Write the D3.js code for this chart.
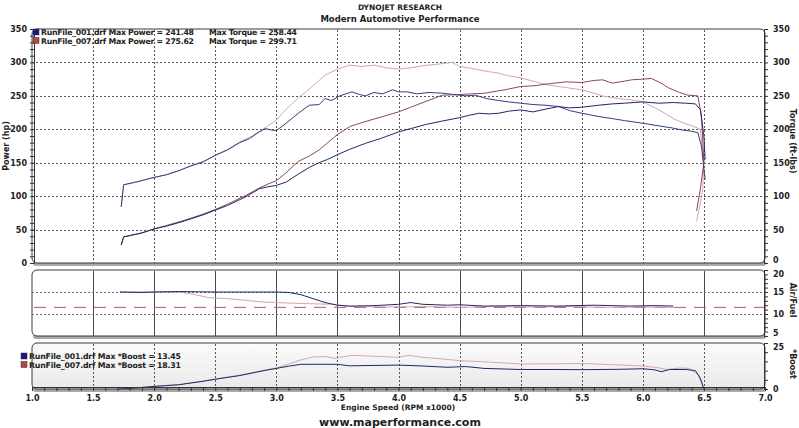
<!DOCTYPE html>
<html>
<head>
<meta charset="UTF-8">
<title>Dynojet - Modern Automotive Performance</title>
<script src="https://cdn.jsdelivr.net/npm/d3@7"></script>
<style>
    body { margin: 0; background: #fff; }
    text { font-family: "DejaVu Sans", Verdana, sans-serif; font-weight: bold; fill: #222; }
</style>
</head>
<body>
<div id="dyno"></div>
<script>
    // ---- data ----
    var rpmTicks = [1.0, 1.5, 2.0, 2.5, 3.0, 3.5, 4.0, 4.5, 5.0, 5.5, 6.0, 6.5, 7.0];
    var powerTicks = [0, 50, 100, 150, 200, 250, 300, 350];
    var afrTicks = [5, 10, 15, 20];
    var boostTicks = [0, 25];

    var runs = ["RunFile_001.drf", "RunFile_007.drf"];
    var maxPower = ["241.48", "275.62"];
    var maxTorque = ["258.44", "299.71"];
    var maxBoost = ["13.45", "18.31"];

    // [rpm x1000, value]
    var power001 = [[1.73,27],[1.75,39],[1.9,45],[2.0,51],[2.1,55],[2.25,63],[2.4,72],[2.5,79],[2.6,86],[2.75,99],[2.86,111],[2.93,114],[3.0,116],[3.08,121],[3.18,133],[3.27,143],[3.35,150],[3.42,155],[3.5,162],[3.6,170],[3.73,179],[3.85,186],[4.0,196],[4.1,201],[4.22,207],[4.35,212],[4.49,217],[4.58,221],[4.66,224],[4.74,223],[4.82,224],[4.9,227],[5.0,229],[5.1,226],[5.2,230],[5.31,234],[5.4,232],[5.5,233],[5.64,236],[5.75,238],[5.85,239],[6.0,241],[6.13,239],[6.25,240],[6.35,239],[6.43,238],[6.47,230],[6.5,190],[6.51,155]];
    var torque001 = [[1.73,84],[1.75,117],[1.85,121],[2.0,128],[2.1,132],[2.2,138],[2.3,145],[2.4,151],[2.5,161],[2.6,169],[2.7,180],[2.78,186],[2.86,196],[2.91,201],[2.96,199],[3.0,198],[3.08,209],[3.18,224],[3.27,236],[3.35,237],[3.4,246],[3.45,243],[3.52,250],[3.62,256],[3.68,252],[3.73,250],[3.8,255],[3.87,253],[3.95,259],[4.0,256],[4.07,256],[4.15,253],[4.25,255],[4.36,254],[4.45,252],[4.55,250],[4.63,251],[4.72,246],[4.82,243],[4.9,241],[5.0,239],[5.1,237],[5.2,236],[5.31,234],[5.4,228],[5.5,224],[5.64,219],[5.75,216],[5.85,213],[6.0,209],[6.1,206],[6.24,202],[6.32,199],[6.4,197],[6.45,195],[6.48,175],[6.5,140],[6.51,125]];
    var power007 = [[1.73,27],[1.75,39],[1.9,45],[2.0,51],[2.1,56],[2.25,64],[2.4,73],[2.5,80],[2.6,88],[2.75,101],[2.86,112],[2.93,118],[3.0,123],[3.08,135],[3.18,152],[3.27,160],[3.35,169],[3.42,180],[3.5,192],[3.6,204],[3.7,210],[3.87,219],[4.0,226],[4.1,233],[4.2,240],[4.3,247],[4.36,251],[4.5,252],[4.6,253],[4.71,254],[4.8,257],[4.87,259],[5.0,264],[5.1,265],[5.23,268],[5.37,271],[5.5,270],[5.6,273],[5.67,274],[5.75,269],[5.85,272],[5.91,274],[6.0,275],[6.07,276],[6.14,270],[6.21,262],[6.3,255],[6.37,251],[6.45,250],[6.48,220],[6.5,150],[6.47,110],[6.44,78]];
    var torque007 = [[1.73,84],[1.75,117],[1.85,121],[2.0,128],[2.1,132],[2.2,138],[2.3,146],[2.4,152],[2.5,161],[2.6,170],[2.7,181],[2.8,190],[2.86,197],[2.93,205],[3.0,214],[3.08,230],[3.18,247],[3.25,257],[3.3,265],[3.35,273],[3.4,281],[3.5,290],[3.6,296],[3.7,294],[3.8,296],[3.9,292],[4.0,290],[4.1,292],[4.2,295],[4.3,297],[4.44,300],[4.5,294],[4.6,291],[4.71,287],[4.82,284],[4.9,280],[5.0,277],[5.1,272],[5.23,266],[5.35,263],[5.5,259],[5.6,254],[5.69,249],[5.8,246],[5.9,244],[6.0,241],[6.1,232],[6.18,224],[6.26,215],[6.34,209],[6.42,204],[6.47,200],[6.5,150],[6.49,110],[6.46,80],[6.44,62]];

    var afr001 = [[1.72,15.0],[1.9,14.9],[2.0,15.0],[2.2,15.1],[2.5,15.0],[2.8,15.0],[3.0,15.0],[3.1,14.9],[3.2,14.4],[3.3,13.5],[3.4,12.6],[3.5,12.0],[3.6,11.8],[3.8,11.9],[4.0,12.2],[4.1,12.6],[4.2,12.2],[4.4,12.0],[4.5,12.1],[4.7,11.8],[5.0,11.9],[5.3,11.8],[5.6,12.0],[5.9,11.8],[6.1,11.9],[6.25,11.8]];
    var afr007 = [[1.72,15.0],[2.0,15.0],[2.2,15.0],[2.3,14.6],[2.45,13.7],[2.6,13.5],[2.9,12.7],[3.2,12.4],[3.46,12.2],[3.6,11.7],[3.9,11.6],[4.2,11.7],[4.5,11.5],[4.8,11.7],[5.1,11.6],[5.4,11.7],[5.7,11.5],[6.0,11.6],[6.25,11.5]];
    var afrTarget = 11.5;

    var boost001 = [[1.7,0],[1.8,0.3],[2.0,1.4],[2.2,2.3],[2.4,4.2],[2.5,5.3],[2.7,7.3],[2.9,10],[3.0,11.2],[3.1,12.4],[3.2,13.4],[3.35,13.45],[3.5,13.4],[3.6,12.6],[3.8,12.8],[4.0,13.0],[4.2,12.5],[4.4,11.8],[4.55,12.2],[4.7,11.2],[5.0,10.6],[5.3,10.6],[5.5,10.5],[5.8,10.7],[6.0,11.0],[6.1,10.4],[6.15,9.4],[6.22,10.6],[6.35,10.6],[6.43,10.0],[6.47,6],[6.5,0]];
    var boost007 = [[1.7,0],[1.8,0.3],[2.0,1.4],[2.2,2.4],[2.4,4.3],[2.5,5.4],[2.7,7.5],[2.9,10.2],[3.0,11.5],[3.1,13.5],[3.2,15.8],[3.3,17.4],[3.4,17.6],[3.48,16.7],[3.62,18.3],[3.8,17.8],[4.0,17.2],[4.08,18.3],[4.2,17.2],[4.35,16.4],[4.5,15.4],[4.7,14.8],[5.0,13.6],[5.3,13.7],[5.5,13.9],[5.75,13.2],[6.0,12.5],[6.1,11.8],[6.2,10.6],[6.3,11.4],[6.38,11.2],[6.45,8],[6.5,0]];

    // ---- layout ----
    var width = 799, height = 428;
    var left = 32, right = 765;

    var svg = d3.select("#dyno").append("svg")
        .attr("width", width)
        .attr("height", height);

    var defs = svg.append("defs");
    var grad = defs.append("linearGradient").attr("id", "boostBg")
        .attr("x1", 0).attr("y1", 0).attr("x2", 0).attr("y2", 1);
    grad.append("stop").attr("offset", "0%").attr("stop-color", "#fbfbfb");
    grad.append("stop").attr("offset", "100%").attr("stop-color", "#e9e9e9");

    var x = d3.scaleLinear().domain([1, 7]).range([left, right]);
    var yMain = d3.scaleLinear().domain([0, 350]).range([263, 29]);
    var yAfr = d3.scaleLinear().domain([5, 20]).range([336, 270]);
    var yBoost = d3.scaleLinear().domain([0, 25]).range([389, 343]);

    var line = function (ys) {
        return d3.line().x(function (d) { return x(d[0]); }).y(function (d) { return ys(d[1]); });
    };

    var blue = "#25246a";
    var blueLight = "#3b3a7c";
    var red = "#8e4656";
    var pink = "#d6a6ac";

    // titles
    svg.append("text").attr("x", 400).attr("y", 10).attr("text-anchor", "middle")
        .style("font-size", "7.5px").text("DYNOJET RESEARCH");
    svg.append("text").attr("x", 400).attr("y", 22).attr("text-anchor", "middle")
        .style("font-size", "8.5px").text("Modern Automotive Performance");

    // panel frame helper
    function panel(top, bottom, fill) {
        svg.append("rect")
            .attr("x", left + 1).attr("y", bottom - 2)
            .attr("width", right - left).attr("height", 5)
            .attr("rx", 3).attr("fill", "#a9a9a9");
        svg.append("rect")
            .attr("x", left).attr("y", top)
            .attr("width", right - left).attr("height", bottom - top)
            .attr("rx", 5)
            .attr("fill", fill).attr("stroke", "#3a3a3a").attr("stroke-width", 1);
    }

    panel(yMain(350), yMain(0), "#fff");
    panel(yAfr(20), yAfr(5), "#fff");
    panel(yBoost(25), yBoost(0), "url(#boostBg)");

    // ---- main panel: power / torque ----
    var grid = svg.append("g").attr("stroke", "#555").attr("stroke-width", 1).attr("stroke-dasharray", "2,2");
    grid.selectAll(".vx").data(rpmTicks.slice(1, -1)).enter().append("line")
        .attr("x1", function (d) { return Math.round(x(d)) + 0.5; })
        .attr("x2", function (d) { return Math.round(x(d)) + 0.5; })
        .attr("y1", yMain(350) + 1).attr("y2", yMain(0));
    grid.selectAll(".hy").data(powerTicks.slice(1, -1)).enter().append("line")
        .attr("x1", left).attr("x2", right)
        .attr("y1", function (d) { return Math.round(yMain(d)) + 0.5; })
        .attr("y2", function (d) { return Math.round(yMain(d)) + 0.5; });

    var mainSeries = [
        { data: torque007, color: pink },
        { data: power007, color: red },
        { data: torque001, color: blueLight },
        { data: power001, color: blue }
    ];
    svg.append("g").selectAll("path").data(mainSeries).enter().append("path")
        .attr("d", function (d) { return line(yMain)(d.data); })
        .attr("fill", "none")
        .attr("stroke", function (d) { return d.color; })
        .attr("stroke-width", 1);

    // left and right axes
    var axL = svg.append("g").attr("transform", "translate(" + left + ",0)")
        .call(d3.axisLeft(yMain).tickValues(powerTicks).tickSize(0).tickPadding(5));
    var axLm = svg.append("g").attr("transform", "translate(" + (left + 2) + ",0)")
        .call(d3.axisLeft(yMain).tickValues(d3.range(0, 351, 10)).tickSize(4).tickFormat(""));
    var axR = svg.append("g").attr("transform", "translate(" + right + ",0)")
        .call(d3.axisRight(yMain).tickValues(powerTicks).tickSize(0).tickPadding(8));
    var axRm = svg.append("g").attr("transform", "translate(" + (right - 1) + ",0)")
        .call(d3.axisRight(yMain).tickValues(d3.range(0, 351, 10)).tickSize(4).tickFormat(""));

    // ---- air/fuel panel ----
    svg.append("g").attr("stroke", "#4a4a4a").selectAll("line")
        .data(rpmTicks.slice(1, -1)).enter().append("line")
        .attr("x1", function (d) { return Math.round(x(d)) + 0.5; })
        .attr("x2", function (d) { return Math.round(x(d)) + 0.5; })
        .attr("y1", yAfr(20) + 1).attr("y2", yAfr(5));
    svg.append("g").attr("stroke", "#6a6a80").attr("stroke-dasharray", "2,2").selectAll("line")
        .data([15, 10]).enter().append("line")
        .attr("x1", left).attr("x2", right)
        .attr("y1", function (d) { return Math.round(yAfr(d)) + 0.5; })
        .attr("y2", function (d) { return Math.round(yAfr(d)) + 0.5; });
    svg.append("line")
        .attr("x1", left + 2).attr("x2", right)
        .attr("y1", yAfr(afrTarget)).attr("y2", yAfr(afrTarget))
        .attr("stroke", "#b65a5a").attr("stroke-width", 1).attr("stroke-dasharray", "12,8");

    svg.append("g").selectAll("path").data([{ data: afr007, color: pink }, { data: afr001, color: blue }])
        .enter().append("path")
        .attr("d", function (d) { return line(yAfr)(d.data); })
        .attr("fill", "none")
        .attr("stroke", function (d) { return d.color; });

    var axA = svg.append("g").attr("transform", "translate(" + right + ",0)")
        .call(d3.axisRight(yAfr).tickValues(afrTicks).tickSize(0).tickPadding(8));
    var axAm = svg.append("g").attr("transform", "translate(" + (right - 1) + ",0)")
        .call(d3.axisRight(yAfr).tickValues(d3.range(5, 21, 1)).tickSize(4).tickFormat(""));

    // ---- boost panel ----
    svg.append("g").attr("stroke", "#555").attr("stroke-dasharray", "2,2").selectAll("line")
        .data(rpmTicks.slice(1, -1)).enter().append("line")
        .attr("x1", function (d) { return Math.round(x(d)) + 0.5; })
        .attr("x2", function (d) { return Math.round(x(d)) + 0.5; })
        .attr("y1", yBoost(25) + 1).attr("y2", yBoost(0));

    svg.append("g").selectAll("path").data([{ data: boost007, color: pink }, { data: boost001, color: blue }])
        .enter().append("path")
        .attr("d", function (d) { return line(yBoost)(d.data); })
        .attr("fill", "none")
        .attr("stroke", function (d) { return d.color; });

    var axB = svg.append("g").attr("transform", "translate(" + right + ",0)")
        .call(d3.axisRight(yBoost).tickValues(boostTicks).tickSize(0).tickPadding(8));
    var axBm = svg.append("g").attr("transform", "translate(" + (right - 1) + ",0)")
        .call(d3.axisRight(yBoost).tickValues(d3.range(0, 26, 5)).tickSize(4).tickFormat(""));

    // x axis along the bottom
    var axX = svg.append("g").attr("transform", "translate(0," + yBoost(0) + ")")
        .call(d3.axisBottom(x).tickValues(rpmTicks).tickSize(0).tickPadding(6).tickFormat(d3.format(".1f")));
    var axXm = svg.append("g").attr("transform", "translate(0," + (yBoost(0) - 2) + ")")
        .call(d3.axisBottom(x).tickValues(d3.range(10, 71, 1).map(function (d) { return d / 10; })).tickSize(4).tickFormat(""));

    // axis styling
    [axL, axR, axA, axB, axX].forEach(function (a) {
        a.select(".domain").remove();
        a.selectAll("text").style("font-size", "8px").style("font-family", "DejaVu Sans, sans-serif").attr("fill", "#222");
    });
    [axLm, axRm, axAm, axBm, axXm].forEach(function (a) {
        a.select(".domain").attr("stroke", "#333");
        a.selectAll("line").attr("stroke", "#333");
    });
    axR.selectAll("text").attr("text-anchor", "start");
    axA.selectAll("text").attr("text-anchor", "start");
    axB.selectAll("text").attr("text-anchor", "start");

    // labels stacked where panels meet on the right side
    axR.selectAll(".tick").filter(function (d) { return d === 0; }).select("text").attr("dy", "-0.05em");
    axA.selectAll(".tick").filter(function (d) { return d === 20; }).select("text").attr("dy", "0.75em");
    axA.selectAll(".tick").filter(function (d) { return d === 5; }).select("text").attr("dy", "-0.05em");
    axB.selectAll(".tick").filter(function (d) { return d === 25; }).select("text").attr("dy", "0.75em");

    // axis titles
    svg.append("text").attr("transform", "translate(9,146) rotate(-90)")
        .attr("text-anchor", "middle").style("font-size", "8px").text("Power (hp)");
    svg.append("text").attr("transform", "translate(790,141) rotate(90)")
        .attr("text-anchor", "middle").style("font-size", "8px").text("Torque (ft-lbs)");
    svg.append("text").attr("transform", "translate(790,300) rotate(90)")
        .attr("text-anchor", "middle").style("font-size", "8px").text("Air/Fuel");
    svg.append("text").attr("transform", "translate(790,364) rotate(90)")
        .attr("text-anchor", "middle").style("font-size", "8px").text("*Boost");
    svg.append("text").attr("x", 398).attr("y", 410).attr("text-anchor", "middle")
        .style("font-size", "7.5px").text("Engine Speed (RPM x1000)");
    svg.append("text").attr("x", 400).attr("y", 426).attr("text-anchor", "middle")
        .style("font-size", "11px").text("www.maperformance.com");

    // legends (widths stretched to match the sheet)
    var swatch = ["#1a1a8c", "#b04848"];
    var legMain = svg.append("g");
    runs.forEach(function (r, i) {
        var yy = 29 + i * 8.5;
        legMain.append("rect").attr("x", 33).attr("y", yy).attr("width", 6).attr("height", 6)
            .attr("fill", swatch[i]).attr("stroke", "#333").attr("stroke-width", 0.5);
        legMain.append("text").attr("x", 41).attr("y", yy + 6.3)
            .style("font-size", "7.8px").attr("textLength", 153).attr("lengthAdjust", "spacing")
            .text(r + " Max Power = " + maxPower[i]);
        legMain.append("text").attr("x", 209).attr("y", yy + 6.3)
            .style("font-size", "7.8px").attr("textLength", 88).attr("lengthAdjust", "spacing")
            .text("Max Torque = " + maxTorque[i]);
    });
    var legBoost = svg.append("g");
    runs.forEach(function (r, i) {
        var yy = 353 + i * 8.5;
        legBoost.append("rect").attr("x", 21).attr("y", yy).attr("width", 6).attr("height", 6)
            .attr("fill", swatch[i]).attr("stroke", "#333").attr("stroke-width", 0.5);
        legBoost.append("text").attr("x", 29).attr("y", yy + 6.3)
            .style("font-size", "7.8px").attr("textLength", 152).attr("lengthAdjust", "spacing")
            .text(r + " Max *Boost = " + maxBoost[i]);
    });
</script>
</body>
</html>
